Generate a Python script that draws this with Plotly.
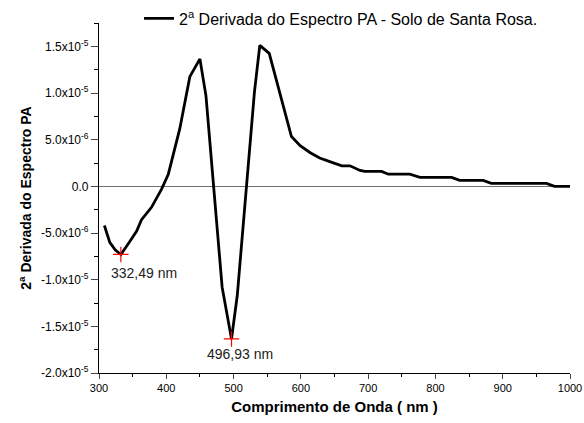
import plotly.graph_objects as go

wavelength = [308, 316, 324, 332.49, 345, 356, 363, 378, 393, 403, 420, 435, 450, 459,
              483, 496.93, 505.5, 519, 531, 539, 553, 586, 599, 614, 628, 645, 661, 673,
              688, 695, 720, 730, 762, 777, 824, 836, 871, 883, 965, 977, 1000]
deriv_e6 = [-4.2, -6.0, -6.8, -7.3, -6.0, -4.8, -3.6, -2.25, -0.3, 1.3, 6.15, 11.75, 13.65, 9.7,
            -10.8, -16.35, -11.7, 0.0, 10.1, 15.1, 14.25, 5.33, 4.36, 3.6, 3.04, 2.6, 2.2, 2.2,
            1.7, 1.6, 1.6, 1.3, 1.3, 0.96, 0.96, 0.64, 0.64, 0.32, 0.32, 0.0, 0.0]
deriv = [v * 1e-6 for v in deriv_e6]

peak_x = [332.49, 496.93]
peak_y = [-7.3e-6, -16.35e-6]
peak_labels = ["332,49 nm", "496,93 nm"]

ytick_vals = [1.5e-5, 1.0e-5, 5.0e-6, 0.0, -5.0e-6, -1.0e-5, -1.5e-5, -2.0e-5]
ytick_text = ["1.5x10<sup>-5</sup>", "1.0x10<sup>-5</sup>", "5.0x10<sup>-6</sup>", "0.0",
              "-5.0x10<sup>-6</sup>", "-1.0x10<sup>-5</sup>", "-1.5x10<sup>-5</sup>",
              "-2.0x10<sup>-5</sup>"]
xtick_vals = [300, 400, 500, 600, 700, 800, 900, 1000]

fig = go.Figure()
fig.add_trace(go.Scatter(
    x=wavelength, y=deriv, mode="lines",
    line=dict(color="black", width=2.8),
    name="2<sup>a</sup> Derivada do Espectro PA - Solo de Santa Rosa.",
))
fig.add_trace(go.Scatter(
    x=peak_x, y=peak_y, mode="markers",
    marker=dict(symbol="cross-thin", size=11, line=dict(color="red", width=1.2)),
    showlegend=False, hoverinfo="skip",
))
shifts = [(-12, -19, "left"), (8, -15, "center")]
for px, py, lab, (xs, ys, xa) in zip(peak_x, peak_y, peak_labels, shifts):
    fig.add_annotation(x=px, y=py, text=lab, showarrow=False,
                       xanchor=xa, xshift=xs, yshift=ys,
                       font=dict(family="Liberation Sans, Arial", size=14, color="#222"))

fig.update_layout(
    width=584, height=423,
    margin=dict(l=99, r=14, t=23, b=50, autoexpand=False),
    paper_bgcolor="white", plot_bgcolor="white",
    font=dict(family="Liberation Sans, Arial", color="black", size=11),
    showlegend=True,
    legend=dict(x=0.085, xanchor="left", y=1.013, yanchor="middle",
                bgcolor="rgba(0,0,0,0)", font=dict(size=16),
                itemwidth=30),
)
fig.update_xaxes(
    range=[300, 1000], tickvals=xtick_vals, ticks="outside", ticklen=5,
    showline=True, linecolor="black", linewidth=1.2, showgrid=False, zeroline=False,
    minor=dict(dtick=50, tick0=300, ticks="outside", ticklen=3, tickcolor="black"),
    title=dict(text="<b>Comprimento de Onda ( nm )</b>", font=dict(size=15), standoff=8),
    tickfont=dict(size=11), automargin=False,
)
fig.update_yaxes(
    range=[-2.0e-5, 1.75e-5], tickvals=ytick_vals, ticktext=ytick_text,
    ticks="outside", ticklen=7,
    showline=True, linecolor="black", linewidth=1.2, showgrid=False,
    zeroline=True, zerolinecolor="#707070", zerolinewidth=1.2,
    minor=dict(dtick=2.5e-6, tick0=0, ticks="outside", ticklen=4, tickcolor="black"),
    title=dict(text="<b>2<sup>a</sup> Derivada do Espectro PA</b>", font=dict(size=14), standoff=6),
    tickfont=dict(size=12), automargin=False,
)

fig.write_html("out.html", config={"displayModeBar": False},
               post_script="document.body.style.margin='0';document.body.style.overflow='hidden';")
